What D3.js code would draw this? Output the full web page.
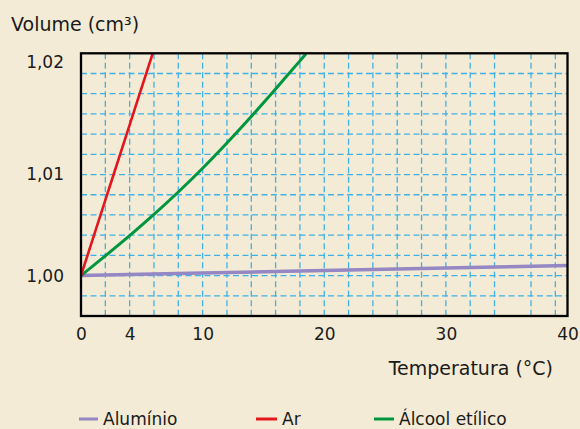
<!DOCTYPE html>
<html>
<head>
<meta charset="utf-8">
<script src="https://cdn.jsdelivr.net/npm/d3@7"></script>
<style>
  html, body { margin: 0; padding: 0; background: #f3ebd5; }
  svg { display: block; font-family: "DejaVu Sans", Verdana, sans-serif; }
</style>
</head>
<body>
<svg id="chart" width="580" height="429"></svg>
<script>
// ---- data ----
const xTickValues = [0, 4, 10, 20, 30, 40];
const yTickValues = [1.00, 1.01, 1.02];
const xGridValues = [2, 4, 6, 8, 10, 12, 14, 16, 18, 20, 22, 24, 26, 28, 30, 32, 34, 37, 39];
const yGridValues = [0.998, 1.000, 1.002, 1.004, 1.006, 1.008, 1.010, 1.012, 1.014, 1.016, 1.018, 1.020];

const seriesNames = ["Alumínio", "Ar", "Álcool etílico"];
const seriesColors = ["#9487c3", "#e3161e", "#00963f"];

const aluminioT = [0, 10, 20, 30, 40];
const aluminioV = [1.0000, 1.00025, 1.0005, 1.00074, 1.00099];

const arT = [0, 2, 4, 5.9];
const arV = [1.0000, 1.00746, 1.01492, 1.0220];

const alcoolT = [0, 2, 4, 6, 8, 10, 12, 14, 16, 18, 18.5];
const alcoolV = [1.0000, 1.00195, 1.00395, 1.00605, 1.00827, 1.01063, 1.01313, 1.01575, 1.01847, 1.02125, 1.02195];

const xTitle = "Temperatura (°C)";
const yTitle = "Volume (cm³)";

// ---- layout ----
const svg = d3.select("#chart");
const pLeft = 81, pRight = 567.5, pTop = 53.3, pBottom = 316;

const x = d3.scaleLinear().domain([0, 40]).range([pLeft, pRight]);
const y = d3.scaleLinear().domain([0.996, 1.022]).range([pBottom, pTop]);

const ptLocale = d3.formatLocale({decimal: ",", thousands: ".", grouping: [3], currency: ["", ""]});
const fmt = ptLocale.format(".2f");

svg.append("rect").attr("width", 580).attr("height", 429).attr("fill", "#f3ebd5");

// grid
const gridColor = "#3fb1e6";
svg.append("g")
  .selectAll("line").data(xGridValues).join("line")
  .attr("x1", d => x(d)).attr("x2", d => x(d))
  .attr("y1", pTop).attr("y2", pBottom)
  .attr("stroke", gridColor).attr("stroke-width", 1.3)
  .attr("stroke-dasharray", "6,3.5");
svg.append("g")
  .selectAll("line").data(yGridValues).join("line")
  .attr("x1", pLeft).attr("x2", pRight)
  .attr("y1", d => y(d)).attr("y2", d => y(d))
  .attr("stroke", gridColor).attr("stroke-width", 1.3)
  .attr("stroke-dasharray", "6,3.5");

// clip
svg.append("clipPath").attr("id", "plotclip")
  .append("rect").attr("x", pLeft).attr("y", pTop)
  .attr("width", pRight - pLeft).attr("height", pBottom - pTop);

const line = d3.line().x(d => x(d[0])).y(d => y(d[1])).curve(d3.curveCatmullRom.alpha(0.5));
const series = [
  {pts: d3.zip(aluminioT, aluminioV), color: seriesColors[0], w: 3.5},
  {pts: d3.zip(alcoolT, alcoolV), color: seriesColors[2], w: 3},
  {pts: d3.zip(arT, arV), color: seriesColors[1], w: 2.6}
];
const lg = svg.append("g").attr("clip-path", "url(#plotclip)");
series.forEach(s => {
  lg.append("path").attr("d", line(s.pts))
    .attr("fill", "none").attr("stroke", s.color)
    .attr("stroke-width", s.w).attr("stroke-linecap", "butt");
});

// frame
svg.append("rect").attr("x", pLeft).attr("y", pTop)
  .attr("width", pRight - pLeft).attr("height", pBottom - pTop)
  .attr("fill", "none").attr("stroke", "#000").attr("stroke-width", 2.3);

// axes
const xAxis = svg.append("g").attr("transform", `translate(0,${pBottom})`)
  .call(d3.axisBottom(x).tickValues(xTickValues).tickSize(0).tickPadding(12).tickFormat(d3.format("d")));
xAxis.select(".domain").remove();
xAxis.selectAll("text").attr("font-size", 17).attr("fill", "#1a1a1a")
  .attr("font-family", "'DejaVu Sans', Verdana, sans-serif");

const yAxis = svg.append("g").attr("transform", `translate(${pLeft},0)`)
  .call(d3.axisLeft(y).tickValues(yTickValues).tickSize(0).tickPadding(17).tickFormat(fmt));
yAxis.select(".domain").remove();
yAxis.selectAll("text").attr("font-size", 17).attr("fill", "#1a1a1a")
  .attr("font-family", "'DejaVu Sans', Verdana, sans-serif")
  .attr("dy", d => d === 1.02 ? "-0.38em" : "0.32em");

// titles
svg.append("text").attr("x", 11).attr("y", 31)
  .attr("font-size", 19).attr("fill", "#1a1a1a").text(yTitle);
svg.append("text").attr("x", 553).attr("y", 375).attr("text-anchor", "end")
  .attr("font-size", 19).attr("fill", "#1a1a1a").text(xTitle);

// legend
const legendX = [79, 256, 374];
const legendLen = [19, 21, 20];
const lgd = svg.append("g");
seriesNames.forEach((n, i) => {
  lgd.append("line").attr("x1", legendX[i]).attr("x2", legendX[i] + legendLen[i])
    .attr("y1", 419).attr("y2", 419)
    .attr("stroke", seriesColors[i]).attr("stroke-width", 3);
  lgd.append("text").attr("x", legendX[i] + legendLen[i] + 5).attr("y", 424.5)
    .attr("font-size", 17).attr("fill", "#1a1a1a").text(n);
});
</script>
</body>
</html>
